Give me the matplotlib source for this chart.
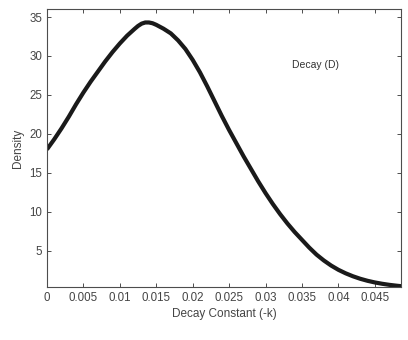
import numpy as np
import matplotlib
matplotlib.use("Agg")
import matplotlib.pyplot as plt

# values
decay_k = [0, 0.001, 0.002, 0.003, 0.004, 0.005, 0.006, 0.007, 0.008, 0.009,
           0.010, 0.011, 0.012, 0.0125, 0.013, 0.0135, 0.014, 0.0145, 0.015,
           0.016, 0.017, 0.018, 0.019, 0.020, 0.021, 0.022, 0.023, 0.024,
           0.025, 0.026, 0.027, 0.028, 0.029, 0.030, 0.031, 0.032, 0.033,
           0.034, 0.035, 0.036, 0.037, 0.038, 0.039, 0.040, 0.041, 0.042,
           0.043, 0.044, 0.045, 0.046, 0.047, 0.048, 0.0486]
density = [18.0, 19.3, 20.7, 22.2, 23.8, 25.3, 26.7, 28.0, 29.3, 30.5,
           31.6, 32.6, 33.45, 33.85, 34.15, 34.3, 34.3, 34.2, 34.0,
           33.5, 32.9, 32.0, 30.9, 29.5, 27.9, 26.1, 24.2, 22.3,
           20.5, 18.8, 17.1, 15.5, 13.9, 12.4, 11.0, 9.7, 8.5,
           7.4, 6.4, 5.4, 4.5, 3.75, 3.1, 2.55, 2.1, 1.72,
           1.4, 1.14, 0.93, 0.76, 0.62, 0.51, 0.45]
x_ticks = [0, 0.005, 0.01, 0.015, 0.02, 0.025, 0.03, 0.035, 0.04, 0.045]
y_ticks = [5, 10, 15, 20, 25, 30, 35]

plt.rcParams['font.family'] = ['Liberation Sans', 'DejaVu Sans']
grey = '#4d4d4d'

fig = plt.figure(figsize=(4.08, 3.4), dpi=100)
ax = fig.add_axes([0.115, 0.156, 0.868, 0.818])

ax.plot(decay_k, density, color='#1a1a1a', lw=3, solid_capstyle='butt',
        solid_joinstyle='round')

ax.set_xlim(0, 0.0486)
ax.set_ylim(0.35, 36.05)
ax.set_xticks(x_ticks)
ax.set_xticklabels([f'{t:g}' for t in x_ticks])
ax.set_yticks(y_ticks)

ax.tick_params(direction='in', length=3, width=0.7, colors=grey,
               labelsize=8.3, top=True, right=True, labelcolor='#444444')
for s in ax.spines.values():
    s.set_color(grey)
    s.set_linewidth(0.8)

ax.set_xlabel('Decay Constant (-k)', fontsize=8.5, color='#444444', labelpad=3)
ax.set_ylabel('Density', fontsize=8.5, color='#444444', labelpad=4)

ax.text(0.0336, 28.9, 'Decay (D)', fontsize=7.5, color='#333333',
        va='center', ha='left')

fig.savefig('out.png', dpi=100)
